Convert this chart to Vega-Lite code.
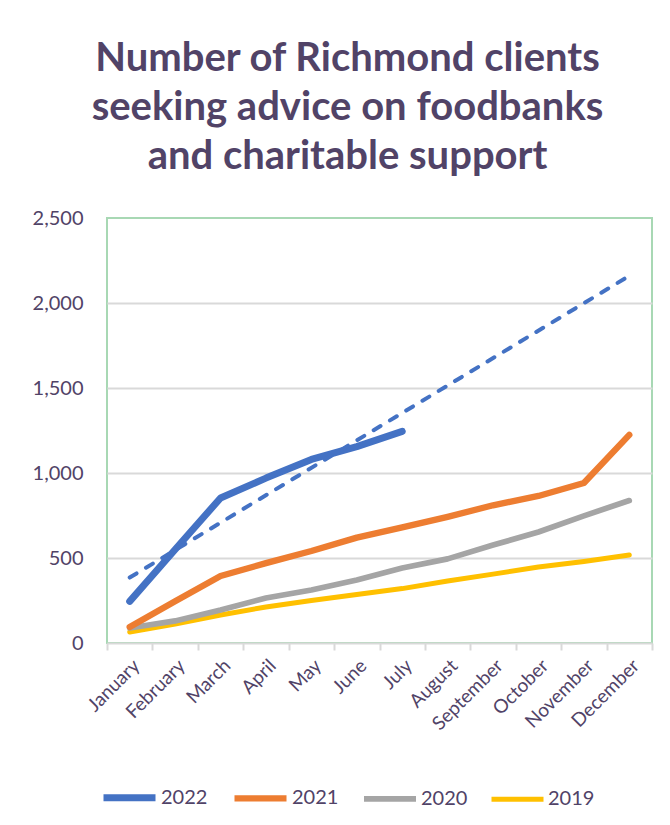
{
  "$schema": "https://vega.github.io/schema/vega-lite/v6.json",
  "width": 545,
  "height": 425,
  "autosize": {"type": "none"},
  "padding": {"left": 107, "top": 218, "right": 18, "bottom": 182},
  "background": "white",
  "title": {
    "text": ["Number of Richmond clients", "seeking advice on foodbanks", "and charitable support"],
    "font": "Lato",
    "fontSize": 40,
    "fontWeight": "bold",
    "color": "#514367",
    "lineHeight": 49,
    "anchor": "middle",
    "frame": "group",
    "dx": -32,
    "offset": 31
  },
  "config": {
    "view": {"stroke": "#A8D8B4", "strokeWidth": 2},
    "font": "Lato"
  },
  "datasets": {
    "series": [
      {"year": "2019", "month": "January", "clients": 65},
      {"year": "2019", "month": "February", "clients": 112},
      {"year": "2019", "month": "March", "clients": 165},
      {"year": "2019", "month": "April", "clients": 212},
      {"year": "2019", "month": "May", "clients": 250},
      {"year": "2019", "month": "June", "clients": 285},
      {"year": "2019", "month": "July", "clients": 320},
      {"year": "2019", "month": "August", "clients": 365},
      {"year": "2019", "month": "September", "clients": 405},
      {"year": "2019", "month": "October", "clients": 447},
      {"year": "2019", "month": "November", "clients": 480},
      {"year": "2019", "month": "December", "clients": 518},
      {"year": "2020", "month": "January", "clients": 88},
      {"year": "2020", "month": "February", "clients": 130},
      {"year": "2020", "month": "March", "clients": 194},
      {"year": "2020", "month": "April", "clients": 265},
      {"year": "2020", "month": "May", "clients": 312},
      {"year": "2020", "month": "June", "clients": 371},
      {"year": "2020", "month": "July", "clients": 441},
      {"year": "2020", "month": "August", "clients": 495},
      {"year": "2020", "month": "September", "clients": 576},
      {"year": "2020", "month": "October", "clients": 653},
      {"year": "2020", "month": "November", "clients": 748},
      {"year": "2020", "month": "December", "clients": 838},
      {"year": "2021", "month": "January", "clients": 94},
      {"year": "2021", "month": "February", "clients": 245},
      {"year": "2021", "month": "March", "clients": 394},
      {"year": "2021", "month": "April", "clients": 470},
      {"year": "2021", "month": "May", "clients": 541},
      {"year": "2021", "month": "June", "clients": 620},
      {"year": "2021", "month": "July", "clients": 680},
      {"year": "2021", "month": "August", "clients": 742},
      {"year": "2021", "month": "September", "clients": 810},
      {"year": "2021", "month": "October", "clients": 865},
      {"year": "2021", "month": "November", "clients": 941},
      {"year": "2021", "month": "December", "clients": 1224},
      {"year": "2022", "month": "January", "clients": 245},
      {"year": "2022", "month": "February", "clients": 550},
      {"year": "2022", "month": "March", "clients": 853},
      {"year": "2022", "month": "April", "clients": 970},
      {"year": "2022", "month": "May", "clients": 1080},
      {"year": "2022", "month": "June", "clients": 1155},
      {"year": "2022", "month": "July", "clients": 1245}
    ],
    "trend": [
      {"month": "January", "clients": 385},
      {"month": "December", "clients": 2160}
    ]
  },
  "layer": [
    {
      "data": {"name": "series"},
      "mark": {"type": "line", "strokeCap": "round", "strokeJoin": "round"},
      "encoding": {
        "x": {
          "field": "month",
          "type": "ordinal",
          "sort": ["January", "February", "March", "April", "May", "June", "July", "August", "September", "October", "November", "December"],
          "scale": {"type": "band", "paddingInner": 0, "paddingOuter": 0, "domain": ["January", "February", "March", "April", "May", "June", "July", "August", "September", "October", "November", "December"]},
          "axis": {
            "title": null,
            "labelAngle": -45,
            "labelFontSize": 19,
            "labelColor": "#514367",
            "tickBand": "extent",
            "domainColor": "#D9D9D9",
            "domainWidth": 2,
            "tickColor": "#D9D9D9",
            "tickWidth": 2,
            "tickSize": 7,
            "grid": false,
            "labelPadding": 6
          }
        },
        "y": {
          "field": "clients",
          "type": "quantitative",
          "scale": {"domain": [0, 2500], "nice": false},
          "axis": {
            "title": null,
            "values": [0, 500, 1000, 1500, 2000, 2500],
            "format": ",d",
            "labelFontSize": 20,
            "labelColor": "#514367",
            "domain": false,
            "ticks": false,
            "labelPadding": 24,
            "gridColor": {"condition": {"test": "datum.value === 0 || datum.value === 2500", "value": "transparent"}, "value": "#D9D9D9"},
            "gridWidth": 2
          }
        },
        "color": {
          "field": "year",
          "type": "nominal",
          "scale": {"domain": ["2022", "2021", "2020", "2019"], "range": ["#4472C4", "#ED7D31", "#A5A5A5", "#FFC000"]},
          "legend": {
            "orient": "none",
            "legendX": -7,
            "legendY": 550,
            "direction": "horizontal",
            "title": null,
            "symbolType": "stroke",
            "symbolSize": 2704,
            "symbolStrokeWidth": 6,
            "labelFontSize": 20,
            "labelColor": "#514367",
            "labelOffset": 2,
            "columnPadding": 13
          }
        },
        "strokeWidth": {
          "field": "year",
          "type": "nominal",
          "scale": {"domain": ["2022", "2021", "2020", "2019"], "range": [7, 5, 5, 5]},
          "legend": null
        }
      }
    },
    {
      "data": {"name": "trend"},
      "mark": {"type": "line", "strokeDash": [8, 11], "strokeWidth": 4, "color": "#4472C4", "strokeCap": "round"},
      "encoding": {
        "x": {"field": "month", "type": "ordinal", "sort": ["January", "February", "March", "April", "May", "June", "July", "August", "September", "October", "November", "December"]},
        "y": {"field": "clients", "type": "quantitative"}
      }
    }
  ]
}
